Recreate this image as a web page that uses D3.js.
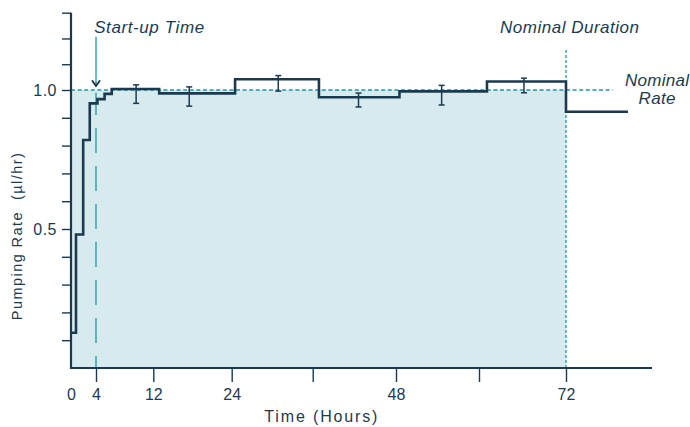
<!DOCTYPE html>
<html>
<head>
<meta charset="utf-8">
<script src="https://cdn.jsdelivr.net/npm/d3@7"></script>
<style>
  body { margin: 0; background: #fff; }
  svg { display: block; font-family: "Liberation Sans", Arial, Helvetica, sans-serif; }
</style>
</head>
<body>
<svg id="chart" width="690" height="427"></svg>
<script>
// ---- data (hours / µl/hr) ----
const stepStarts = [0, 0.8, 1.95, 3.0, 4.2, 5.2, 6.2, 12.9, 24.5, 36.9, 48.5, 61.1, 72];
const stepValues = [0.127, 0.48, 0.82, 0.952, 0.967, 0.986, 1.004, 0.988, 1.042, 0.974, 0.995, 1.033, 0.922];
const stepEnd = 81;
const errHours = [9.6, 17.5, 30.9, 42.6, 54.6, 66.2];
const errLow   = [0.952, 0.942, 0.996, 0.939, 0.946, 0.990];
const errHigh  = [1.020, 1.012, 1.056, 0.989, 1.018, 1.046];
const xTickValues = [0, 4, 12, 24, 36, 48, 60, 72];
const xTickLabels = ["0", "4", "12", "24", "", "48", "", "72"];
const yTickValues = [0.1, 0.2, 0.3, 0.4, 0.5, 0.6, 0.7, 0.8, 0.9, 1.0, 1.1, 1.2, 1.3];
const yTickLabels = { 0.5: "0.5", 1.0: "1.0" };
const nominalRate = 1.0;
const nominalDuration = 72;
const startupTime = 4;
const rateLineEnd = 78.8;

const navy = "#1b3a50", teal = "#1c98a8", fill = "#d7eaee";

const svg = d3.select("#chart");

const x = d3.scaleLinear()
  .domain([0, 4, 12, 24, 36, 48, 60, 72, 84.5])
  .range([71, 96, 153.3, 231.7, 312.7, 396, 479, 566, 652]);
const y = d3.scaleLinear()
  .domain([0, 1.0, 1.3])
  .range([368, 90, 12.7]);

// filled nominal region
svg.append("rect")
  .attr("x", x(0)).attr("y", y(nominalRate))
  .attr("width", x(nominalDuration) - x(0))
  .attr("height", y(0) - y(nominalRate))
  .attr("fill", fill);

// nominal rate dashed line
svg.append("line")
  .attr("x1", x(0)).attr("x2", x(rateLineEnd))
  .attr("y1", y(nominalRate)).attr("y2", y(nominalRate))
  .attr("stroke", teal).attr("stroke-width", 1.3)
  .attr("stroke-dasharray", "4,2.6");

// nominal duration dotted line
svg.append("line")
  .attr("x1", x(nominalDuration)).attr("x2", x(nominalDuration))
  .attr("y1", y(0)).attr("y2", 48)
  .attr("stroke", teal).attr("stroke-width", 1.3)
  .attr("stroke-dasharray", "3,2");

// start-up dashed line (drawn bottom-up)
svg.append("line")
  .attr("x1", x(startupTime)).attr("x2", x(startupTime))
  .attr("y1", y(0)).attr("y2", y(0.99))
  .attr("stroke", teal).attr("stroke-width", 1.3)
  .attr("stroke-dasharray", "25,13").attr("stroke-dashoffset", 13);

// arrow
svg.append("line")
  .attr("x1", x(startupTime)).attr("x2", x(startupTime))
  .attr("y1", y(1.207)).attr("y2", y(1.016))
  .attr("stroke", teal).attr("stroke-width", 1.3);
const tipX = x(startupTime), tipY = y(1.016);
svg.append("path")
  .attr("d", `M${tipX - 4},${tipY - 5.5}L${tipX},${tipY}L${tipX + 4},${tipY - 5.5}`)
  .attr("fill", "none").attr("stroke", navy).attr("stroke-width", 1.8);

// axes
const xAxis = d3.axisBottom(x)
  .tickValues(xTickValues)
  .tickFormat((d, i) => xTickLabels[i])
  .tickSizeInner(14).tickSizeOuter(0).tickPadding(7);
const gx = svg.append("g").attr("transform", `translate(0,${y(0)})`).call(xAxis);
gx.select(".domain").attr("stroke", navy).attr("stroke-width", 2.2)
  .attr("d", `M${x(0) - 1},0H${x(84.5)}`);
gx.selectAll(".tick line").attr("stroke", navy).attr("stroke-width", 1.4)
  .attr("opacity", d => d === 0 ? 0 : 1);
gx.selectAll(".tick text").attr("fill", navy).attr("font-size", 16)
  .attr("font-family", "'Liberation Sans', Arial, sans-serif");

const yAxis = d3.axisLeft(y)
  .tickValues(yTickValues)
  .tickFormat(d => yTickLabels[d] || "")
  .tickSizeInner(9).tickSizeOuter(0).tickPadding(5);
const gy = svg.append("g").attr("transform", `translate(${x(0)},0)`).call(yAxis);
gy.select(".domain").attr("stroke", navy).attr("stroke-width", 2.2)
  .attr("d", `M0,${y(0) + 1}V${y(1.3)}`);
gy.selectAll(".tick line").attr("stroke", navy).attr("stroke-width", 1.4);
gy.selectAll(".tick text").attr("fill", navy).attr("font-size", 16)
  .attr("letter-spacing", 0.5)
  .attr("font-family", "'Liberation Sans', Arial, sans-serif");

// step line
const pts = stepStarts.map((h, i) => [h, stepValues[i]]);
pts.push([stepEnd, stepValues[stepValues.length - 1]]);
const line = d3.line().x(d => x(d[0])).y(d => y(d[1])).curve(d3.curveStepAfter);
svg.append("path").datum(pts)
  .attr("d", line)
  .attr("fill", "none").attr("stroke", navy).attr("stroke-width", 2.6)
  .attr("stroke-linejoin", "miter");

// error bars
const eb = svg.append("g").attr("stroke", navy).attr("stroke-width", 1.5);
errHours.forEach((h, i) => {
  const cx = x(h);
  eb.append("line").attr("x1", cx).attr("x2", cx).attr("y1", y(errLow[i])).attr("y2", y(errHigh[i]));
  eb.append("line").attr("x1", cx - 3).attr("x2", cx + 3).attr("y1", y(errLow[i])).attr("y2", y(errLow[i]));
  eb.append("line").attr("x1", cx - 3).attr("x2", cx + 3).attr("y1", y(errHigh[i])).attr("y2", y(errHigh[i]));
});

// annotations
const txt = (s, px, py, opts = {}) => {
  const t = svg.append("text").text(s)
    .attr("x", px).attr("y", py)
    .attr("fill", navy)
    .attr("font-size", opts.size || 15)
    .attr("text-anchor", opts.anchor || "start")
    .style("white-space", "pre");
  if (opts.italic) t.attr("font-style", "italic");
  if (opts.len) t.attr("textLength", opts.len).attr("lengthAdjust", "spacing");
  if (opts.rotate) t.attr("transform", `rotate(-90,${px},${py})`);
  return t;
};
txt("Start-up Time", x(3.7), 32.7, { italic: true, size: 17, len: 110 });
txt("Nominal Duration", x(nominalDuration) + 3.5, 32.7, { italic: true, size: 17, anchor: "middle", len: 139 });
txt("Nominal", 657, 86, { italic: true, size: 17, anchor: "middle", len: 64 });
txt("Rate", 657, 104, { italic: true, size: 17, anchor: "middle", len: 37 });
txt("Time (Hours)", (x(24) + x(48)) / 2 + 7, 422, { size: 16, anchor: "middle", len: 113 });
txt("Pumping Rate\u00a0\u00a0(µl/hr)", 21.7, 236.7, { size: 14.5, anchor: "middle", len: 167, rotate: true });
</script>
</body>
</html>
